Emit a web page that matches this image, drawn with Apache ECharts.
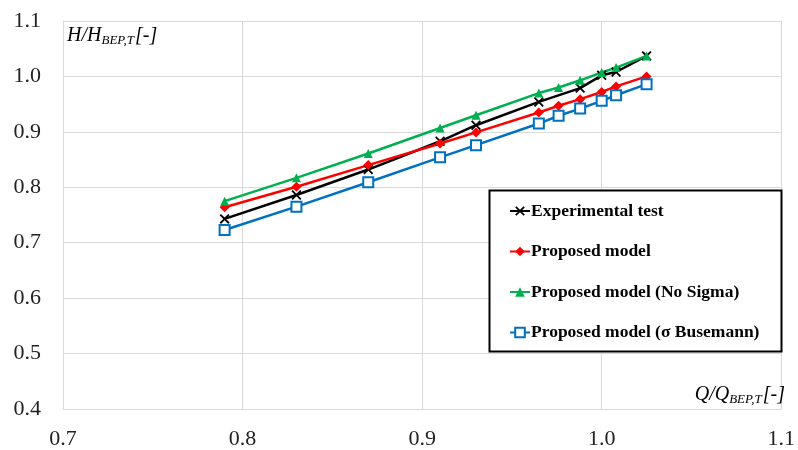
<!DOCTYPE html>
<html>
<head>
<meta charset="utf-8">
<script src="https://cdn.jsdelivr.net/npm/echarts@6/dist/echarts.min.js"></script>
<style>
  html, body { margin: 0; padding: 0; background: #fff; }
  #chart { width: 798px; height: 450px; }
</style>
</head>
<body>
<div id="chart"></div>
<script>
// Flow ratio Q/Q_BEP,T for the measured points and for the model runs
const flowExp = [0.79, 0.83, 0.87, 0.91, 0.93, 0.965, 0.988, 1.0, 1.008, 1.025];
const flowModel = [0.79, 0.83, 0.87, 0.91, 0.93, 0.965, 0.976, 0.988, 1.0, 1.008, 1.025];

// Head ratio H/H_BEP,T
const headExperimental = [0.743, 0.786, 0.832, 0.883, 0.912, 0.954, 0.979, 1.002, 1.008, 1.037];
const headModel        = [0.764, 0.801, 0.840, 0.879, 0.899, 0.935, 0.947, 0.959, 0.972, 0.982, 1.000];
const headNoSigma      = [0.775, 0.817, 0.861, 0.907, 0.930, 0.970, 0.980, 0.993, 1.007, 1.016, 1.037];
const headBusemann     = [0.723, 0.765, 0.809, 0.854, 0.876, 0.915, 0.929, 0.942, 0.956, 0.966, 0.986];

const seriesNames = [
  'Experimental test',
  'Proposed model',
  'Proposed model (No Sigma)',
  'Proposed model (σ Busemann)'
];

const xTicks = { min: 0.7, max: 1.1, step: 0.1 };
const yTicks = { min: 0.4, max: 1.1, step: 0.1 };

const zip = (xs, ys) => xs.map((x, i) => [x, ys[i]]);

const SERIF = "'Liberation Serif', 'DejaVu Serif', serif";
const GRID = '#d9d9d9';
const CROSS = 'path://M0,1.3L1.3,0L5,3.7L8.7,0L10,1.3L6.3,5L10,8.7L8.7,10L5,6.3L1.3,10L0,8.7L3.7,5Z';

const chart = echarts.init(document.getElementById('chart'), null, { renderer: 'canvas' });

function lineSeries(name, data, color, symbol, size, extraItem) {
  return {
    name: name,
    type: 'line',
    data: data,
    symbol: symbol,
    symbolSize: size,
    showSymbol: true,
    lineStyle: { color: color, width: 2.5 },
    itemStyle: Object.assign({ color: color }, extraItem || {}),
    emphasis: { disabled: true },
    animation: false,
    z: 3
  };
}

const axisTitleRich = {
  m: { fontFamily: SERIF, fontStyle: 'italic', fontSize: 20, color: '#000' },
  s: { fontFamily: SERIF, fontStyle: 'italic', fontSize: 13, color: '#000', padding: [10, 1, 0, 0] }
};

chart.setOption({
  backgroundColor: '#fff',
  animation: false,
  textStyle: { fontFamily: SERIF },
  grid: { left: 63, right: 15, top: 21, bottom: 41 },
  xAxis: {
    type: 'value',
    min: xTicks.min, max: xTicks.max, interval: xTicks.step,
    axisLine: { show: true, lineStyle: { color: GRID, width: 1 } },
    axisTick: { show: false },
    splitLine: { show: true, lineStyle: { color: GRID, width: 1 } },
    axisLabel: {
      margin: 19,
      fontFamily: SERIF, fontSize: 22, color: '#222',
      formatter: v => v.toFixed(1)
    }
  },
  yAxis: {
    type: 'value',
    min: yTicks.min, max: yTicks.max, interval: yTicks.step,
    axisLine: { show: true, lineStyle: { color: GRID, width: 1 } },
    axisTick: { show: false },
    splitLine: { show: true, lineStyle: { color: GRID, width: 1 } },
    axisLabel: {
      margin: 22,
      fontFamily: SERIF, fontSize: 22, color: '#222',
      formatter: v => v.toFixed(1)
    }
  },
  legend: {
    orient: 'vertical',
    left: 509, top: 202,
    padding: 0,
    z: 10,
    itemWidth: 20, itemHeight: 12,
    itemGap: 22.5,
    data: seriesNames,
    selectedMode: false,
    textStyle: { fontFamily: SERIF, fontWeight: 'bold', fontSize: 17.5, color: '#000', lineHeight: 18, padding: [0, 0, 0, -4] }
  },
  graphic: [
    {
      type: 'rect',
      shape: { x: 489.5, y: 190.5, width: 292, height: 161 },
      style: { fill: '#fff', stroke: '#000', lineWidth: 2 },
      z: 1
    },
    {
      type: 'text',
      left: 67, top: 26,
      style: {
        text: '{m|H/H}{s|BEP,T}{m|[-]}',
        rich: axisTitleRich
      },
      z: 6
    },
    {
      type: 'text',
      right: 13, top: 385,
      style: {
        text: '{m|Q/Q}{s|BEP,T}{m|[-]}',
        rich: axisTitleRich
      },
      z: 6
    }
  ],
  series: [
    lineSeries(seriesNames[0], zip(flowExp, headExperimental), '#000000', CROSS, 10),
    lineSeries(seriesNames[1], zip(flowModel, headModel), '#ff0000', 'diamond', 10),
    lineSeries(seriesNames[2], zip(flowModel, headNoSigma), '#00b050', 'triangle', 9),
    lineSeries(seriesNames[3], zip(flowModel, headBusemann), '#0070c0', 'emptyRect', 10, { borderWidth: 2 })
  ]
});
</script>
</body>
</html>
